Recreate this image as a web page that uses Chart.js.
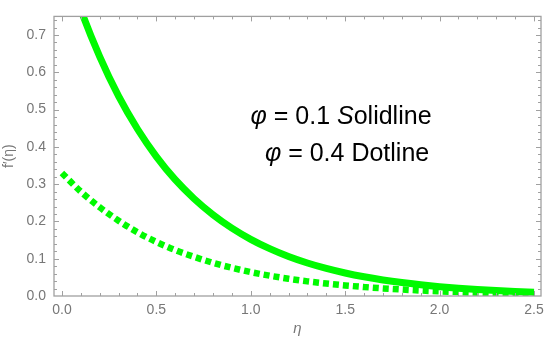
<!DOCTYPE html>
<html>
<head>
<meta charset="utf-8">
<script src="https://cdn.jsdelivr.net/npm/chart.js@4/dist/chart.umd.min.js"></script>
<style>
html,body{margin:0;padding:0;background:#fff;}
#wrap{width:550px;height:344px;position:relative;}
</style>
</head>
<body>
<div id="wrap"><canvas id="c" width="550" height="344"></canvas></div>
<script>
// ---- data ----
const eta = [0.0,0.1,0.2,0.3,0.4,0.5,0.6,0.7,0.8,0.9,1.0,1.1,1.2,1.3,1.4,1.5,1.6,1.7,1.8,1.9,2.0,2.1,2.2,2.3,2.4,2.5];
const solidPhi01 = [0.920,0.768,0.642,0.536,0.448,0.374,0.312,0.261,0.218,0.182,0.152,0.127,0.106,0.0886,0.074,0.0618,0.0516,0.0431,0.036,0.0301,0.0251,0.021,0.0175,0.0146,0.0122,0.0102];
const dotPhi04 = [0.330,0.280,0.238,0.202,0.171,0.145,0.123,0.105,0.089,0.0756,0.0642,0.0545,0.0463,0.0393,0.0334,0.0283,0.0241,0.0204,0.0174,0.0147,0.0125,0.0106,0.0090,0.0077,0.0065,0.0055];
const xTicks = [0.0,0.5,1.0,1.5,2.0,2.5];
const xTickLabels = ["0.0","0.5","1.0","1.5","2.0","2.5"];
const yTicks = [0.0,0.1,0.2,0.3,0.4,0.5,0.6,0.7];
const yTickLabels = ["0.0","0.1","0.2","0.3","0.4","0.5","0.6","0.7"];
const annotations = [
  {x:1.478, y:0.48, parts:[["φ",true],[" = 0.1 ",false],["S",true],["olidline",false]]},
  {x:1.51, y:0.381, parts:[["φ",true],[" = 0.4 Dotline",false]]}
];

const GREEN = 'rgb(0,250,0)';
const FRAME = '#a0a0a0';
const LABEL = '#777777';
const FONT = '"Liberation Sans", Arial, sans-serif';

const framePlugin = {
  id:'frame',
  afterDraw(chart){
    const ctx = chart.ctx, a = chart.chartArea;
    const xs = chart.scales.x, ys = chart.scales.y;
    ctx.save();
    ctx.strokeStyle = FRAME;
    ctx.lineWidth = 1.3;
    ctx.strokeRect(a.left, a.top, a.right-a.left, a.bottom-a.top);
    ctx.lineWidth = 1;
    ctx.beginPath();
    for (let i=0;i<=26;i++){
      const v = i*0.1;
      const px = Math.round(xs.getPixelForValue(v))+0.5;
      if (px < a.left || px > a.right) continue;
      const len = (i%5===0)?5:3;
      ctx.moveTo(px, a.bottom); ctx.lineTo(px, a.bottom-len);
      ctx.moveTo(px, a.top); ctx.lineTo(px, a.top+len);
    }
    for (let i=0;i<=37;i++){
      const v = i*0.02;
      const py = Math.round(ys.getPixelForValue(v))+0.5;
      if (py < a.top || py > a.bottom) continue;
      const len = (i%5===0)?5:3;
      ctx.moveTo(a.left, py); ctx.lineTo(a.left+len, py);
      ctx.moveTo(a.right, py); ctx.lineTo(a.right-len, py);
    }
    ctx.stroke();
    ctx.fillStyle = '#000';
    ctx.textBaseline = 'middle';
    annotations.forEach(an=>{
      let w = 0;
      an.parts.forEach(p=>{ ctx.font = (p[1]?'italic ':'')+'25px '+FONT; w += ctx.measureText(p[0]).width; });
      let x = xs.getPixelForValue(an.x) - w/2;
      const y = ys.getPixelForValue(an.y);
      an.parts.forEach(p=>{ ctx.font = (p[1]?'italic ':'')+'25px '+FONT; ctx.textAlign='left'; ctx.fillText(p[0], x, y); x += ctx.measureText(p[0]).width; });
    });
    ctx.restore();
  }
};

new Chart(document.getElementById('c'), {
  type:'line',
  data:{
    datasets:[
      {label:'φ = 0.1', data: eta.map((e,i)=>({x:e,y:solidPhi01[i]})), borderColor:GREEN, borderWidth:7, pointRadius:0, cubicInterpolationMode:'monotone', fill:false, clip:0},
      {label:'φ = 0.4', data: eta.map((e,i)=>({x:e,y:dotPhi04[i]})), borderColor:GREEN, borderWidth:6.5, borderDash:[6,4], borderCapStyle:'butt', pointRadius:0, cubicInterpolationMode:'monotone', fill:false, clip:0}
    ]
  },
  options:{
    responsive:false,
    animation:false,
    layout:{padding:{top:9,right:9,left:0,bottom:0}},
    plugins:{legend:{display:false}, tooltip:{enabled:false}},
    scales:{
      x:{
        type:'linear', min:-0.042, max:2.537,
        grid:{display:false, drawTicks:false}, border:{display:false},
        afterBuildTicks(s){ s.ticks = xTicks.map(v=>({value:v})); },
        afterFit(s){ s.height = 48; },
        ticks:{padding:6, color:LABEL, font:{family:FONT,size:14}, maxRotation:0, autoSkip:false,
          callback:(v)=>{ const i = xTicks.findIndex(t=>Math.abs(t-v)<1e-9); return i>=0?xTickLabels[i]:''; }},
        title:{display:true, text:'η', color:LABEL, font:{family:FONT,size:15,style:'italic'}, padding:{top:0,bottom:6}}
      },
      y:{
        type:'linear', min:0, max:0.75,
        grid:{display:false, drawTicks:false}, border:{display:false},
        afterBuildTicks(s){ s.ticks = yTicks.map(v=>({value:v})); },
        afterFit(s){ s.width = 54; },
        ticks:{padding:8, color:LABEL, font:{family:FONT,size:14}, autoSkip:false,
          callback:(v)=>{ const i = yTicks.findIndex(t=>Math.abs(t-v)<1e-9); return i>=0?yTickLabels[i]:''; }},
        title:{display:true, text:'f′(η)', color:LABEL, font:{family:FONT,size:14}, padding:{top:1,bottom:0}}
      }
    }
  },
  plugins:[framePlugin]
});
</script>
</body>
</html>
